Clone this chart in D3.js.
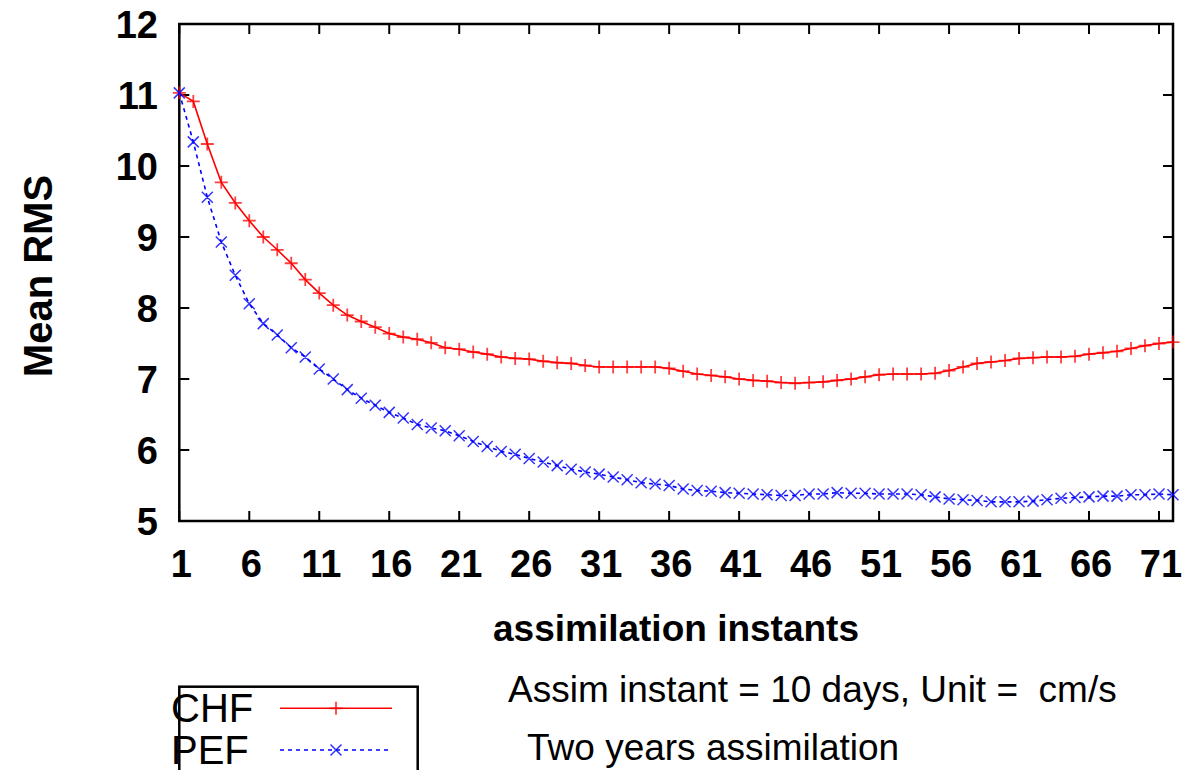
<!DOCTYPE html>
<html>
<head>
<meta charset="utf-8">
<script src="https://cdn.jsdelivr.net/npm/d3@7/dist/d3.min.js"></script>
<style>
  html, body { margin: 0; padding: 0; background: #fff; }
  svg { display: block; font-family: "Liberation Sans", Arial, sans-serif; }
</style>
</head>
<body>
<svg id="chart" width="1189" height="770"></svg>
<script>
// Assimilation instants 1..72
const instants = d3.range(1, 73);

// Mean RMS per assimilation instant (cm/s)
const chfValues = [
  11.03, 10.91, 10.31, 9.77, 9.48, 9.23, 9.00, 8.82, 8.63, 8.40,
  8.21, 8.04, 7.90, 7.81, 7.73, 7.64, 7.59, 7.56, 7.51, 7.44,
  7.42, 7.38, 7.35, 7.31, 7.29, 7.28, 7.25, 7.23, 7.22, 7.19,
  7.17, 7.17, 7.17, 7.17, 7.17, 7.15, 7.11, 7.07, 7.05, 7.03,
  7.00, 6.98, 6.97, 6.95, 6.94, 6.95, 6.96, 6.98, 7.00, 7.03,
  7.06, 7.07, 7.07, 7.07, 7.08, 7.12, 7.17, 7.22, 7.24, 7.26,
  7.29, 7.30, 7.31, 7.31, 7.32, 7.35, 7.37, 7.39, 7.43, 7.47, 7.50, 7.52
];
const pefValues = [
  11.03, 10.34, 9.56, 8.93, 8.46, 8.06, 7.78, 7.62, 7.44, 7.31,
  7.14, 7.00, 6.85, 6.73, 6.63, 6.53, 6.45, 6.36, 6.31, 6.27,
  6.20, 6.12, 6.05, 5.98, 5.94, 5.88, 5.83, 5.78, 5.73, 5.69,
  5.66, 5.62, 5.58, 5.54, 5.52, 5.50, 5.45, 5.43, 5.42, 5.40,
  5.39, 5.38, 5.37, 5.36, 5.36, 5.38, 5.38, 5.40, 5.39, 5.39,
  5.38, 5.38, 5.38, 5.37, 5.34, 5.31, 5.30, 5.29, 5.27, 5.27,
  5.27, 5.28, 5.30, 5.32, 5.33, 5.34, 5.35, 5.35, 5.37, 5.37, 5.38, 5.37
];

const xTicks = [1, 6, 11, 16, 21, 26, 31, 36, 41, 46, 51, 56, 61, 66, 71];
const yTicks = [5, 6, 7, 8, 9, 10, 11, 12];
const seriesNames = ["CHF", "PEF"];
const xTitle = "assimilation instants";
const yTitle = "Mean RMS";
const notes = ["Assim instant = 10 days, Unit =  cm/s", "Two years assimilation"];

(function drawChart() {
  const svg = d3.select("#chart");
  const plotLeft = 179.3, plotRight = 1173, plotTop = 24, plotBottom = 521;

  const x = d3.scaleLinear().domain([1, 72]).range([plotLeft, plotRight]);
  const y = d3.scaleLinear().domain([5, 12]).range([plotBottom, plotTop]);

  const tickLen = 10;
  const tickFont = 38;

  // Tick marks, inward on all four sides
  const tickG = svg.append("g").attr("stroke", "#000").attr("stroke-width", 2);
  xTicks.forEach(t => {
    tickG.append("line").attr("x1", x(t)).attr("x2", x(t)).attr("y1", plotBottom).attr("y2", plotBottom - tickLen);
    tickG.append("line").attr("x1", x(t)).attr("x2", x(t)).attr("y1", plotTop).attr("y2", plotTop + tickLen);
  });
  yTicks.forEach(t => {
    tickG.append("line").attr("x1", plotLeft).attr("x2", plotLeft + tickLen).attr("y1", y(t)).attr("y2", y(t));
    tickG.append("line").attr("x1", plotRight).attr("x2", plotRight - tickLen).attr("y1", y(t)).attr("y2", y(t));
  });

  // Tick labels
  svg.append("g").selectAll("text").data(xTicks).join("text")
    .attr("x", d => x(d) + 2).attr("y", 577)
    .attr("text-anchor", "middle")
    .attr("font-size", tickFont).attr("font-weight", "bold")
    .text(d => d);
  svg.append("g").selectAll("text").data(yTicks).join("text")
    .attr("x", 158).attr("y", d => y(d)).attr("dy", "0.36em")
    .attr("text-anchor", "end")
    .attr("font-size", tickFont).attr("font-weight", "bold")
    .text(d => d);

  // Plot frame
  svg.append("rect")
    .attr("x", plotLeft).attr("y", plotTop)
    .attr("width", plotRight - plotLeft).attr("height", plotBottom - plotTop)
    .attr("fill", "none").attr("stroke", "#000").attr("stroke-width", 2.5);

  // Series lines
  const line = d3.line().x((d, i) => x(instants[i])).y(d => y(d));
  svg.append("path").datum(chfValues)
    .attr("d", line).attr("fill", "none")
    .attr("stroke", "#ff0000").attr("stroke-width", 1.6);
  svg.append("path").datum(pefValues)
    .attr("d", line).attr("fill", "none")
    .attr("stroke", "#0000ff").attr("stroke-width", 1.6)
    .attr("stroke-dasharray", "4,4");

  // Point markers
  function plusPath(cx, cy, s) {
    return `M${cx - s},${cy}H${cx + s}M${cx},${cy - s}V${cy + s}`;
  }
  function crossPath(cx, cy, s) {
    return `M${cx - s},${cy - s}L${cx + s},${cy + s}M${cx - s},${cy + s}L${cx + s},${cy - s}`;
  }
  svg.append("path")
    .attr("d", chfValues.map((v, i) => plusPath(x(instants[i]), y(v), 6.5)).join(""))
    .attr("stroke", "#ff0000").attr("stroke-opacity", 0.75).attr("stroke-width", 1.8).attr("fill", "none");
  svg.append("path")
    .attr("d", pefValues.map((v, i) => crossPath(x(instants[i]), y(v), 5.5)).join(""))
    .attr("stroke", "#0000ff").attr("stroke-opacity", 0.8).attr("stroke-width", 1.5).attr("fill", "none");

  // Axis titles
  svg.append("text")
    .attr("x", 676).attr("y", 641)
    .attr("text-anchor", "middle")
    .attr("font-size", 37).attr("font-weight", "bold")
    .text(xTitle);
  svg.append("text")
    .attr("transform", "translate(52,276) rotate(-90)")
    .attr("text-anchor", "middle")
    .attr("font-size", 40).attr("font-weight", "bold")
    .text(yTitle);

  // Notes
  svg.append("text").attr("x", 508).attr("y", 702)
    .attr("font-size", 37).style("white-space", "pre")
    .text(notes[0]);
  svg.append("text").attr("x", 527).attr("y", 760)
    .attr("font-size", 37)
    .text(notes[1]);

  // Legend
  const legend = svg.append("g");
  legend.append("rect")
    .attr("x", 179.3).attr("y", 686.7)
    .attr("width", 238.4).attr("height", 120)
    .attr("fill", "none").attr("stroke", "#000").attr("stroke-width", 2.5);
  const legendY = [708.3, 750];
  legend.selectAll("text.lbl").data(seriesNames).join("text")
    .attr("class", "lbl")
    .attr("x", 171).attr("y", (d, i) => legendY[i] + 14)
    .attr("font-size", 40)
    .text(d => d);
  legend.append("line").attr("x1", 280).attr("x2", 392).attr("y1", legendY[0]).attr("y2", legendY[0])
    .attr("stroke", "#ff0000").attr("stroke-width", 1.6);
  legend.append("path").attr("d", plusPath(336, legendY[0], 6.5))
    .attr("stroke", "#ff0000").attr("stroke-opacity", 0.75).attr("stroke-width", 1.8);
  legend.append("line").attr("x1", 280).attr("x2", 390).attr("y1", legendY[1]).attr("y2", legendY[1])
    .attr("stroke", "#0000ff").attr("stroke-width", 1.6).attr("stroke-dasharray", "4,4");
  legend.append("path").attr("d", crossPath(336, legendY[1], 5.5))
    .attr("stroke", "#0000ff").attr("stroke-opacity", 0.8).attr("stroke-width", 1.5);
})();
</script>
</body>
</html>
